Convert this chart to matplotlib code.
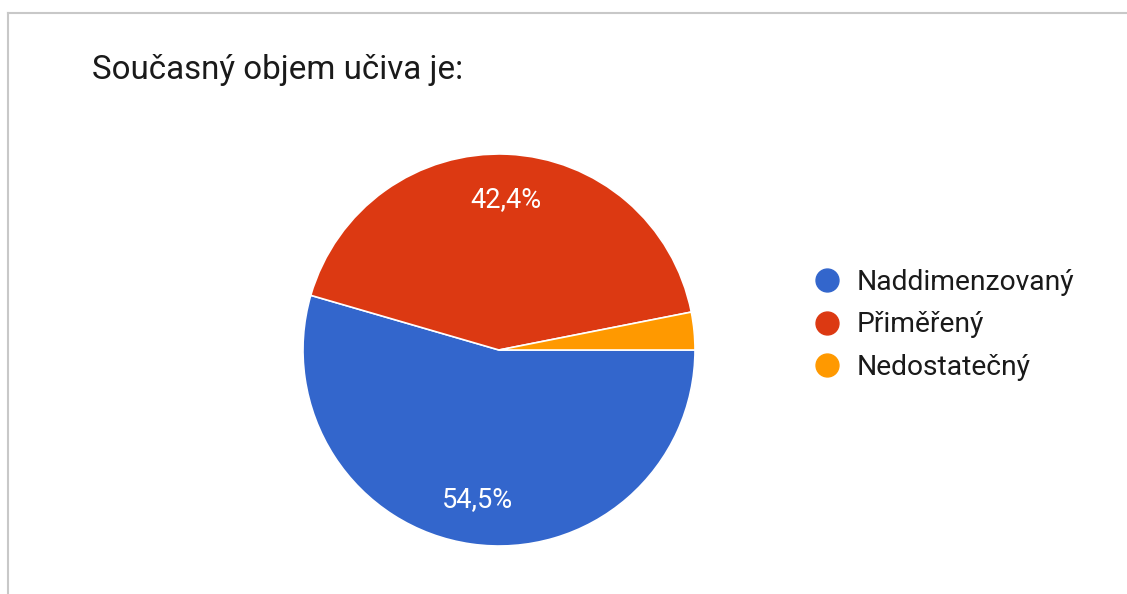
import matplotlib
matplotlib.use("Agg")
import matplotlib.pyplot as plt
from matplotlib.lines import Line2D

plt.rcParams['font.family'] = ['Roboto', 'DejaVu Sans']

title = "Současný objem učiva je:"
categories = ["Naddimenzovaný", "Přiměřený", "Nedostatečný"]
values = [54.5, 42.4, 3.1]
labels_txt = ["54,5%", "42,4%", ""]
colors = ["#3366CC", "#DC3912", "#FF9900"]

W, H = 1127, 594
fig = plt.figure(figsize=(W / 100, H / 100), dpi=100)
fig.patch.set_facecolor("white")

ax = fig.add_axes([303 / W, 1 - 546 / H, 392 / W, 392 / H])
wedges, texts = ax.pie(values, colors=colors, startangle=0, counterclock=False,
                       labels=labels_txt, labeldistance=0.77,
                       wedgeprops=dict(edgecolor="white", linewidth=1.2),
                       textprops=dict(color="white", fontsize=19.5))
for t in texts:
    t.set_ha("center")
    t.set_va("center")
ax.set_aspect("equal")
ax.set_xlim(-1.0, 1.0)
ax.set_ylim(-1.0, 1.0)
ax.axis("off")

fig.text(92 / W, 1 - 70 / H, title, fontsize=23.9, color="#1a1a1a", va="center", ha="left")

handles = [Line2D([], [], marker="o", linestyle="", markersize=16.5, markerfacecolor=c,
                  markeredgecolor=c) for c in colors]
leg = fig.legend(handles, categories, loc="center left",
                 bbox_to_anchor=(815.5 / W, 1 - 325 / H), frameon=False,
                 fontsize=20.3, handletextpad=0.66, labelspacing=0.55,
                 handlelength=0.8, borderpad=0, borderaxespad=0)
for t in leg.get_texts():
    t.set_color("#1a1a1a")

fig.add_artist(Line2D([7.5 / W, 1.0], [1 - 12.5 / H, 1 - 12.5 / H], color="#c8c8c8", linewidth=1.5))
fig.add_artist(Line2D([7.5 / W, 7.5 / W], [1 - 12.5 / H, 0.0], color="#c8c8c8", linewidth=1.5))

fig.savefig("out.png", dpi=100, facecolor="white")
